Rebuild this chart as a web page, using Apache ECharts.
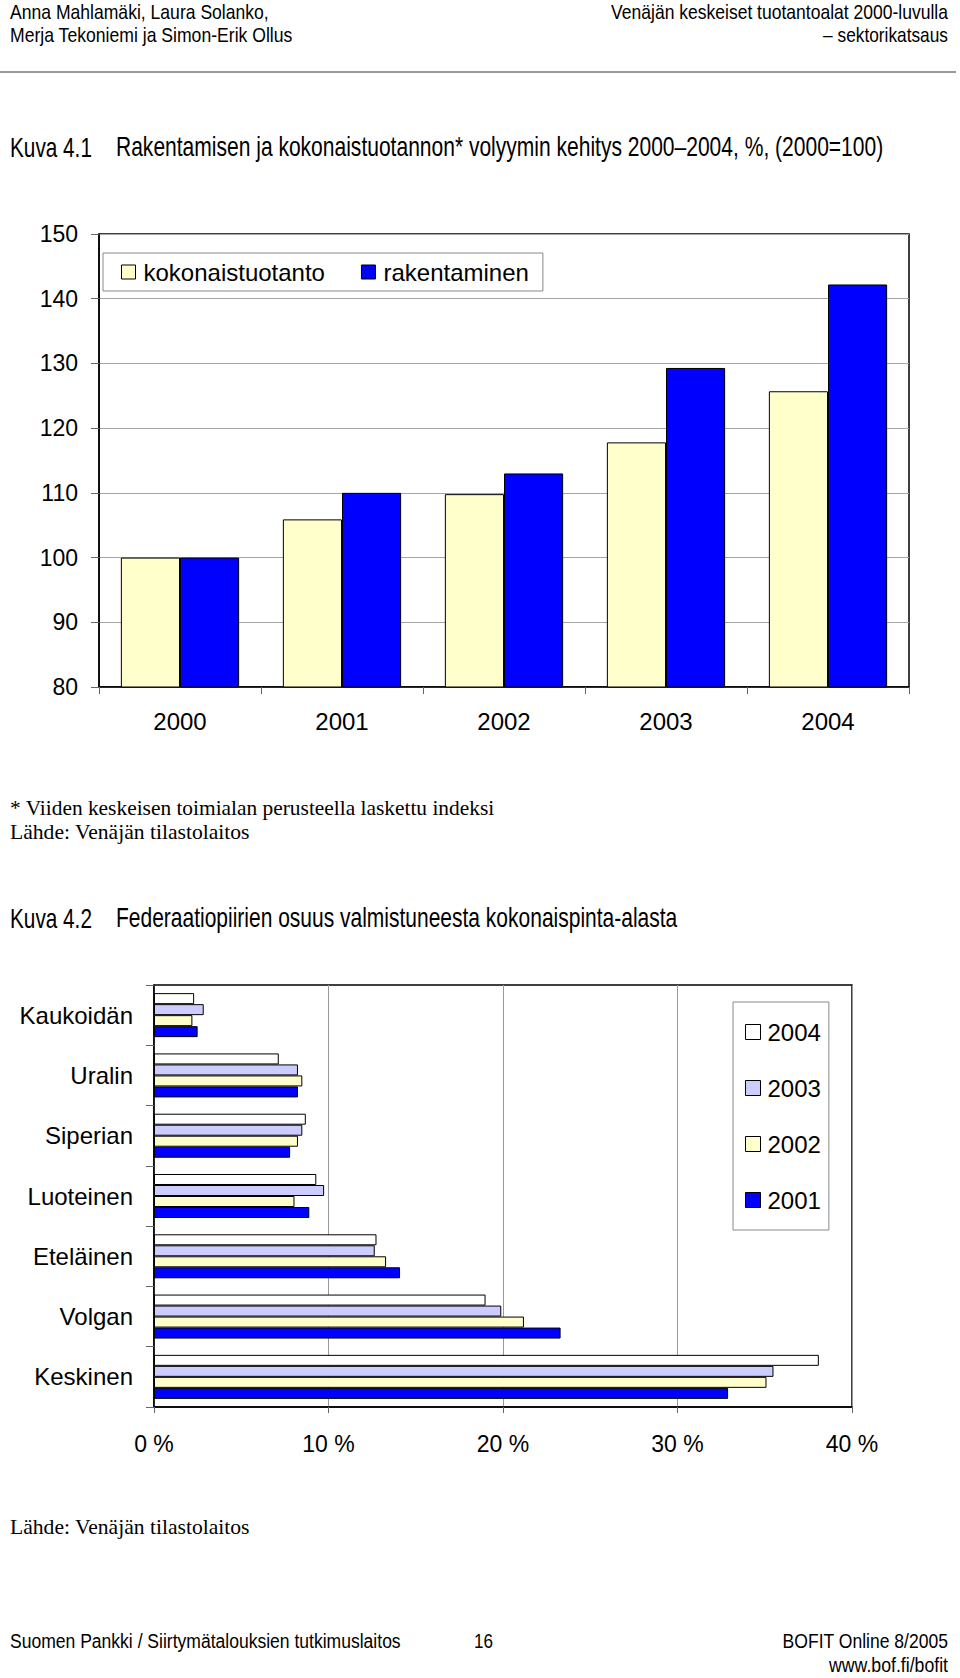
<!DOCTYPE html>
<html><head><meta charset="utf-8">
<script src="https://cdn.jsdelivr.net/npm/echarts@6/dist/echarts.min.js"></script>
<style>html,body{margin:0;padding:0;background:#fff}#c{width:960px;height:1678px}</style>
</head><body><div id="c"></div>
<script>
// ---- Chart 4.1 data ----
const years1 = ['2000', '2001', '2002', '2003', '2004'];
const kokonaistuotanto = [100, 105.9, 109.8, 117.8, 125.7];
const rakentaminen = [100, 110, 113, 129.3, 142.2];
const yMin1 = 80, yMax1 = 150, yStep1 = 10;

// ---- Chart 4.2 data ----
const regions = ['Kaukoidän', 'Uralin', 'Siperian', 'Luoteinen', 'Eteläinen', 'Volgan', 'Keskinen'];
const share2004 = [2.3, 7.15, 8.7, 9.3, 12.75, 19.0, 38.1];
const share2003 = [2.85, 8.25, 8.5, 9.75, 12.65, 19.9, 35.5];
const share2002 = [2.2, 8.5, 8.25, 8.05, 13.3, 21.2, 35.1];
const share2001 = [2.5, 8.25, 7.8, 8.9, 14.1, 23.3, 32.9];
const xMin2 = 0, xMax2 = 40, xStep2 = 10;

const SANS = '"Liberation Sans", Arial, sans-serif';
const SERIF = '"Liberation Serif", "Times New Roman", serif';

const chart = echarts.init(document.getElementById('c'), null, {renderer: 'svg'});

const measureCtx = document.createElement('canvas').getContext('2d');
// text condensed horizontally to the width it takes in the reference
function fitText(text, x, y, size, family, targetW, align) {
  const font = size + 'px ' + family;
  measureCtx.font = font;
  const w = measureCtx.measureText(text).width || targetW;
  return {type: 'text', x: x, y: y, scaleX: targetW / w, scaleY: 1, originX: 0, originY: 0,
    style: {text: text, x: 0, y: 0, font: font, fill: '#000', align: align || 'left', verticalAlign: 'middle'}};
}

const barBorder = {borderColor: '#000', borderWidth: 1};

const option = {
  backgroundColor: '#fff',
  animation: false,
  grid: [
    {left: 99, top: 234, width: 810, height: 453, show: true, borderColor: '#000', borderWidth: 1.5, backgroundColor: 'transparent'},
    {left: 154, top: 985, width: 698, height: 422, show: true, borderColor: '#000', borderWidth: 1.5, backgroundColor: 'transparent'}
  ],
  xAxis: [
    {type: 'category', gridIndex: 0, data: years1,
      axisLine: {show: true, lineStyle: {color: '#000', width: 1.5}},
      axisTick: {show: true, length: 7, lineStyle: {color: '#666', width: 1}},
      axisLabel: {fontSize: 24, fontFamily: SANS, color: '#000', margin: 22},
      splitLine: {show: false}},
    {type: 'value', gridIndex: 1, min: xMin2, max: xMax2, interval: xStep2,
      axisLine: {show: true, lineStyle: {color: '#000', width: 1.5}},
      axisTick: {show: true, length: 6, lineStyle: {color: '#666', width: 1}},
      axisLabel: {fontSize: 23, fontFamily: SANS, color: '#000', margin: 25, formatter: '{value} %'},
      splitLine: {show: true, lineStyle: {color: '#999', width: 1}}}
  ],
  yAxis: [
    {type: 'value', gridIndex: 0, min: yMin1, max: yMax1, interval: yStep1,
      axisLine: {show: true, lineStyle: {color: '#000', width: 1.5}},
      axisTick: {show: true, length: 8, lineStyle: {color: '#666', width: 1}},
      axisLabel: {fontSize: 23, fontFamily: SANS, color: '#000', margin: 21},
      splitLine: {show: true, lineStyle: {color: '#a6a6a6', width: 1.2}}},
    {type: 'category', gridIndex: 1, data: regions, inverse: true,
      axisLine: {show: true, lineStyle: {color: '#000', width: 1.5}},
      axisTick: {show: true, length: 8, lineStyle: {color: '#666', width: 1}},
      axisLabel: {fontSize: 24, fontFamily: SANS, color: '#000', margin: 21},
      splitLine: {show: false}}
  ],
  legend: [
    {data: ['kokonaistuotanto', 'rakentaminen'], left: 103, top: 253, orient: 'horizontal',
      padding: [7, 14, 7, 18], itemGap: 36, itemWidth: 14, itemHeight: 14, icon: 'rect',
      borderColor: '#888', borderWidth: 1, backgroundColor: '#fff',
      itemStyle: {borderColor: '#000', borderWidth: 1},
      textStyle: {fontSize: 24, fontFamily: SANS, color: '#000', padding: [0, 0, 0, 3]}},
    {data: ['2004', '2003', '2002', '2001'], left: 733, top: 1002, orient: 'vertical',
      padding: [18, 8, 18, 12], itemGap: 32, itemWidth: 15, itemHeight: 15, icon: 'rect',
      borderColor: '#888', borderWidth: 1, backgroundColor: '#fff',
      itemStyle: {borderColor: '#000', borderWidth: 1},
      textStyle: {fontSize: 24, fontFamily: SANS, color: '#000', padding: [0, 0, 0, 2]}}
  ],
  series: [
    {name: 'kokonaistuotanto', type: 'bar', xAxisIndex: 0, yAxisIndex: 0, data: kokonaistuotanto,
      barGap: '0%', barCategoryGap: '27%', itemStyle: Object.assign({color: '#FFFFCC'}, barBorder)},
    {name: 'rakentaminen', type: 'bar', xAxisIndex: 0, yAxisIndex: 0, data: rakentaminen,
      barGap: '0%', barCategoryGap: '27%', itemStyle: Object.assign({color: '#0000FF'}, barBorder)},
    {name: '2004', type: 'bar', xAxisIndex: 1, yAxisIndex: 1, data: share2004,
      barGap: '0%', barCategoryGap: '27%', itemStyle: Object.assign({color: '#FFFFFF'}, barBorder)},
    {name: '2003', type: 'bar', xAxisIndex: 1, yAxisIndex: 1, data: share2003,
      barGap: '0%', barCategoryGap: '27%', itemStyle: Object.assign({color: '#CCCCFF'}, barBorder)},
    {name: '2002', type: 'bar', xAxisIndex: 1, yAxisIndex: 1, data: share2002,
      barGap: '0%', barCategoryGap: '27%', itemStyle: Object.assign({color: '#FFFFCC'}, barBorder)},
    {name: '2001', type: 'bar', xAxisIndex: 1, yAxisIndex: 1, data: share2001,
      barGap: '0%', barCategoryGap: '27%', itemStyle: Object.assign({color: '#0000FF'}, barBorder)}
  ],
  graphic: [
    fitText('Anna Mahlamäki, Laura Solanko,', 10, 12, 20, SANS, 259),
    fitText('Merja Tekoniemi ja Simon-Erik Ollus', 10, 35, 20, SANS, 283),
    fitText('Venäjän keskeiset tuotantoalat 2000-luvulla', 948, 12, 20, SANS, 337, 'right'),
    fitText('– sektorikatsaus', 948, 35, 20, SANS, 125, 'right'),
    {type: 'line', shape: {x1: 0, y1: 72, x2: 956, y2: 72}, style: {stroke: '#333', lineWidth: 1}},
    fitText('Kuva 4.1', 10, 147, 27, SANS, 82),
    fitText('Rakentamisen ja kokonaistuotannon* volyymin kehitys 2000–2004, %, (2000=100)', 116, 147, 27, SANS, 768),
    fitText('* Viiden keskeisen toimialan perusteella laskettu indeksi', 10, 808, 22, SERIF, 485),
    fitText('Lähde: Venäjän tilastolaitos', 10, 832, 22, SERIF, 240),
    fitText('Kuva 4.2', 10, 918, 27, SANS, 82),
    fitText('Federaatiopiirien osuus valmistuneesta kokonaispinta-alasta', 116, 918, 27, SANS, 562),
    fitText('Lähde: Venäjän tilastolaitos', 10, 1527, 22, SERIF, 240),
    fitText('Suomen Pankki / Siirtymätalouksien tutkimuslaitos', 10, 1641, 20, SANS, 391),
    fitText('16', 474, 1641, 20, SANS, 19),
    fitText('BOFIT Online 8/2005', 948, 1641, 20, SANS, 166, 'right'),
    fitText('www.bof.fi/bofit', 948, 1665, 20, SANS, 119, 'right')
  ]
};
chart.setOption(option);
</script>
</body></html>
